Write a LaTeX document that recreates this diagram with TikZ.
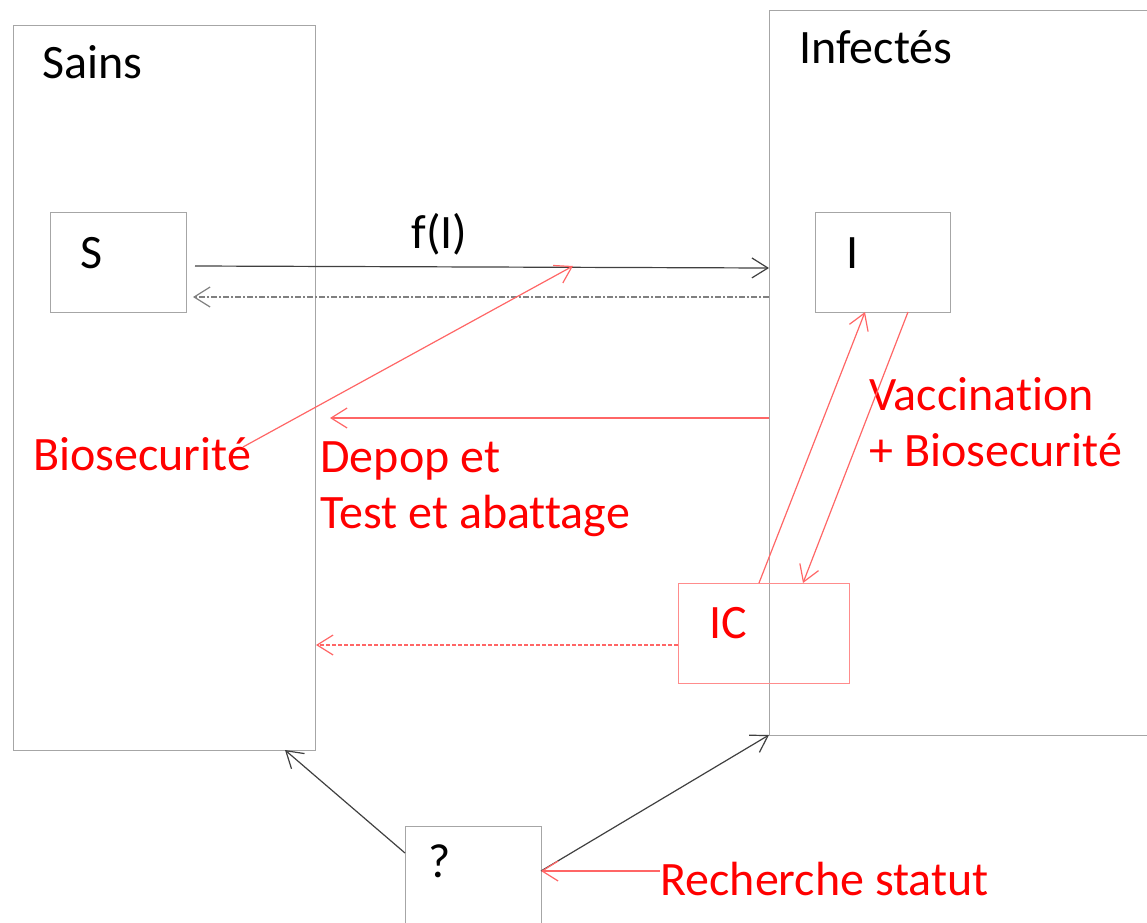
\documentclass[tikz,border=0pt]{standalone}
\usepackage{fontspec}
\setmainfont{Carlito}[Ligatures=NoCommon]
\usetikzlibrary{arrows.meta}
\tikzset{
  boite/.style={draw=gray!70, line width=0.6pt, inner sep=0pt, anchor=north west},
  boiterouge/.style={draw=red!45, line width=0.6pt, inner sep=0pt, anchor=north west},
  fleche/.style={-{Straight Barb[length=8pt,width=10pt]}, line width=0.6pt},
  lbl/.style={anchor=base west, inner sep=0pt, font=\fontsize{24}{30}\selectfont},
}
\begin{document}
\begin{tikzpicture}[x=0.5pt,y=-0.5pt]
\useasboundingbox (0,0) rectangle (1147,922);
% boites
\node[boite, minimum width=151pt, minimum height=362.5pt](sains) at (13,25) {};
\node[boite, minimum width=190pt, minimum height=362.5pt](infectes) at (769,10) {};
\node[boite, minimum width=68pt, minimum height=50pt](S) at (50,212) {};
\node[boite, minimum width=67.5pt, minimum height=50pt](I) at (815,212) {};
\node[boiterouge, minimum width=85.5pt, minimum height=50pt](IC) at (678,583) {};
\node[boite, minimum width=68pt, minimum height=60pt](Q) at (405,826) {};
% textes
\node[lbl](tsains) at (42,78) {Sains};
\node[lbl](tinf) at (799,63) {Infectés};
\node[lbl](tS) at (80,268) {S};
\node[lbl](tI) at (846,268) {I};
\node[lbl, red](tIC) at (709,638) {IC};
\node[lbl](tQ) at (428,877) {?};
\node[lbl](tf) at (411,248) {f(I)};
\node[lbl, red](tbio) at (33,470) {Biosecurité};
\node[lbl, red](tdep1) at (320,472) {Depop et};
\node[lbl, red](tdep2) at (320,528) {Test et abattage};
\node[lbl, red](tvac1) at (869,410) {Vaccination};
\node[lbl, red](tvac2) at (869,466) {+ Biosecurité};
\node[lbl, red](trech) at (660,895) {Recherche statut};
% points d'accroche
\coordinate(s1) at (195,266);
\coordinate(i1) at (769,268);
\coordinate(i2) at (769,297);
\coordinate(s2) at (193,297);
\coordinate(i3) at (769,418);
\coordinate(d1) at (330,418);
\coordinate(ic1) at (678,645);
\coordinate(d2) at (316,645);
\coordinate(b1) at (243,447);
\coordinate(b2) at (573,266);
\coordinate(ic2) at (759,583);
\coordinate(i4) at (865,312);
\coordinate(i5) at (908,312);
\coordinate(ic3) at (803,583);
\coordinate(q1) at (405,853);
\coordinate(sa1) at (285,750);
\coordinate(q2) at (541,871);
\coordinate(in1) at (769,735);
\coordinate(r1) at (660,871);
% fleches
\draw[fleche, black!75](s1)--(i1);
\draw[fleche, gray, dash pattern=on 3pt off 1pt on 1pt off 1pt](i2)--(s2);
\draw[fleche, red!60](i3)--(d1);
\draw[fleche, red!60, dash pattern=on 2pt off 1pt](ic1)--(d2);
\draw[fleche, red!60](b1)--(b2);
\draw[fleche, red!60](ic2)--(i4);
\draw[fleche, red!60](i5)--(ic3);
\draw[fleche, black!75](q1)--(sa1);
\draw[fleche, black!75](q2)--(in1);
\draw[fleche, red!60](r1)--(q2);
\end{tikzpicture}
\end{document}
